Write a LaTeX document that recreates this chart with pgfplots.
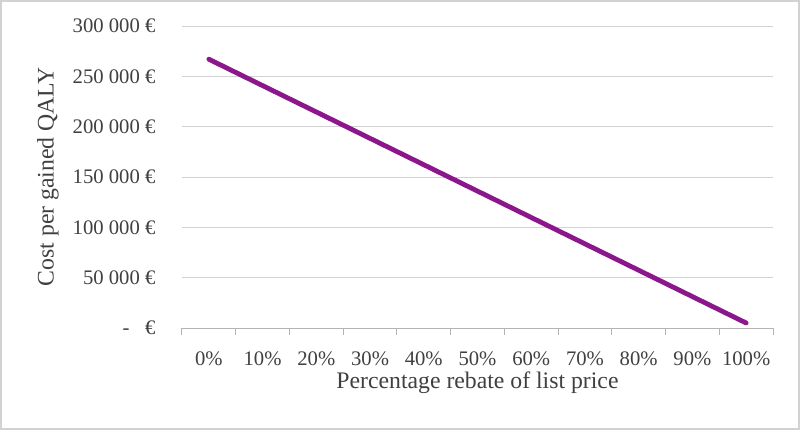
\documentclass[border=0pt]{standalone}
\usepackage{pgfplots}
\pgfplotsset{compat=1.18}
\usepackage{fontspec}
\setmainfont{Liberation Serif}
\definecolor{linepurple}{RGB}{140,22,140}
\definecolor{gridgray}{RGB}{210,210,210}
\definecolor{axgray}{RGB}{180,180,180}
\definecolor{txtgray}{RGB}{64,64,64}
\newcommand{\fs}{\fontsize{15.5}{18}\selectfont}
\newcommand{\fl}{\fontsize{17.8}{20}\selectfont}
\begin{document}
\begin{tikzpicture}
\useasboundingbox (0,0) rectangle (600pt,322.5pt);
\draw[draw=gridgray, line width=1.2pt] (0.6pt,0.6pt) rectangle (599.4pt,321.9pt);
\begin{axis}[
  at={(136.5pt,76.5pt)}, anchor=south west,
  scale only axis, width=443.25pt, height=226.5pt,
  xmin=-0.5, xmax=10.5, ymin=0, ymax=300000,
  scaled y ticks=false,
  axis lines*=left,
  x axis line style={draw=axgray, line width=0.75pt},
  y axis line style={draw=none},
  xtick={0,...,10},
  xticklabels={0\%,10\%,20\%,30\%,40\%,50\%,60\%,70\%,80\%,90\%,100\%},
  major x tick style={draw=none},
  minor xtick={-0.5,0.5,...,10.5},
  minor x tick style={draw=axgray, line width=0.75pt},
  minor tick length=5pt,
  tick align=outside,
  ytick={0,50000,100000,150000,200000,250000,300000},
  yticklabels={{-\ \ \ €},{50 000 €},{100 000 €},{150 000 €},{200 000 €},{250 000 €},{300 000 €}},
  major y tick style={draw=none},
  ymajorgrids,
  grid style={draw=gridgray, line width=0.75pt},
  every tick label/.append style={font=\fs, text=txtgray},
  yticklabel style={anchor=east, inner sep=0pt, xshift=-15.5pt},
  xticklabel style={anchor=base, inner sep=0pt, yshift=-24pt},
  xlabel={Percentage rebate of list price},
  ylabel={Cost per gained QALY},
  every axis x label/.style={at={(axis description cs:0.5,0)}, anchor=center, yshift=-41.25pt, font=\fl, text=txtgray},
  every axis y label/.style={at={(axis description cs:0,0.5)}, xshift=-100.5pt, rotate=90, anchor=center, font=\fl, text=txtgray},
  clip=false,
]
\addplot[color=linepurple, line width=3.6pt, line cap=round] coordinates {
(0,267000) (1,240800) (2,214600) (3,188400) (4,162200) (5,136000) (6,109800) (7,83600) (8,57400) (9,31200) (10,5000)
};
\end{axis}
\end{tikzpicture}
\end{document}
